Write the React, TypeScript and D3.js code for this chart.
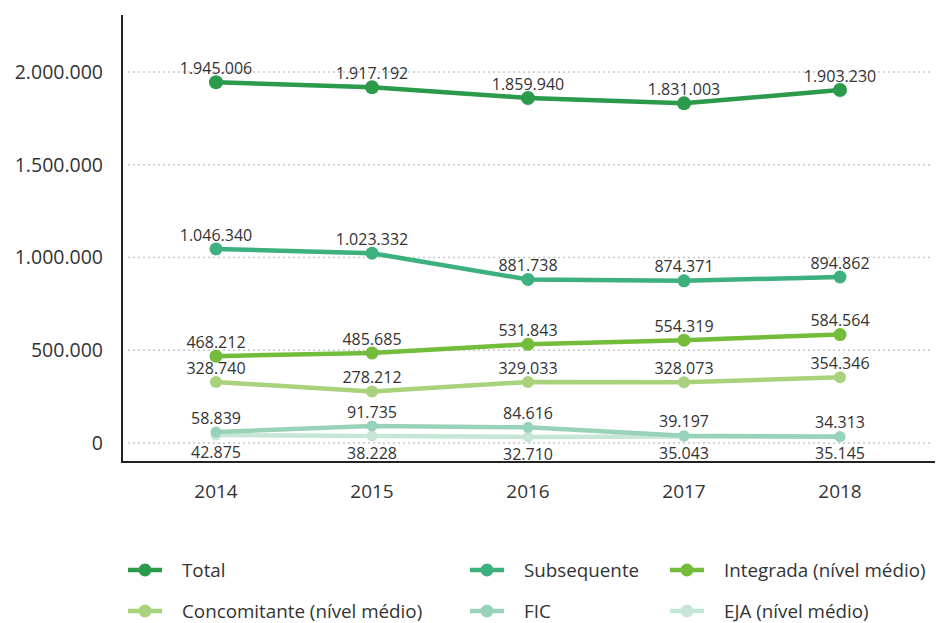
import * as d3 from "d3";
import React, { useEffect } from "react";

const years = [2014, 2015, 2016, 2017, 2018];
const totalValues = [1945006, 1917192, 1859940, 1831003, 1903230];
const subsequenteValues = [1046340, 1023332, 881738, 874371, 894862];
const integradaValues = [468212, 485685, 531843, 554319, 584564];
const concomitanteValues = [328740, 278212, 329033, 328073, 354346];
const ficValues = [58839, 91735, 84616, 39197, 34313];
const ejaValues = [42875, 38228, 32710, 35043, 35145];
const yTicks = [0, 500000, 1000000, 1500000, 2000000];

type Series = { name: string; values: number[]; color: string; r: number; below?: boolean };

const series: Series[] = [
  { name: "EJA (nível médio)", values: ejaValues, color: "#c6e7d6", r: 5.5, below: true },
  { name: "FIC", values: ficValues, color: "#98d3b9", r: 5.5 },
  { name: "Concomitante (nível médio)", values: concomitanteValues, color: "#a8d37c", r: 6 },
  { name: "Integrada (nível médio)", values: integradaValues, color: "#74bc3b", r: 6.5 },
  { name: "Subsequente", values: subsequenteValues, color: "#3cb07e", r: 6.5 },
  { name: "Total", values: totalValues, color: "#2b9a4b", r: 7 },
];

// legend order as in the picture (3 columns, 2 rows)
const legendOrder = ["Total", "Subsequente", "Integrada (nível médio)", "Concomitante (nível médio)", "FIC", "EJA (nível médio)"];

const fmt = (v: number) => d3.format(",")(v).replace(/,/g, ".");

export default function App() {
  useEffect(() => {
    document.body.style.margin = "0";
  }, []);

  const width = 949;
  const height = 623;
  const axisX = 122;
  const axisBottom = 462;

  const y = d3.scaleLinear().domain([0, 2000000]).range([443, 72]);
  const x = d3.scalePoint<number>().domain(years).range([216, 840]);

  const line = d3.line<number>()
    .x((_, i) => x(years[i]) ?? 0)
    .y((d) => y(d));

  const legendCols = [128, 470, 670];
  const legendRows = [570, 611];

  return (
    <svg width={width} height={height} style={{ display: "block", background: "#fff" }}>
      {/* gridlines */}
      {yTicks.map((t) => (
        <line key={t} x1={axisX + 6} x2={932} y1={y(t)} y2={y(t)}
          stroke="#c8c8c8" strokeWidth={1.3} strokeDasharray="2,3" />
      ))}
      {/* y tick labels */}
      {yTicks.map((t) => (
        <text key={"l" + t} x={103} y={y(t)} dy="0.35em" textAnchor="end"
          fontFamily="'Open Sans', sans-serif" fontSize={19.5} fill="#333">{fmt(t)}</text>
      ))}
      {/* axes */}
      <line x1={axisX} x2={axisX} y1={15} y2={axisBottom + 1} stroke="#222" strokeWidth={2} />
      <line x1={axisX} x2={935} y1={axisBottom} y2={axisBottom} stroke="#222" strokeWidth={2} />
      {years.map((yr) => (
        <text key={yr} x={x(yr) ?? 0} y={491} dy="0.35em" textAnchor="middle"
          fontFamily="'Open Sans', sans-serif" fontSize={19} fill="#333">{yr}</text>
      ))}
      {/* series */}
      {series.map((s) => (
        <g key={s.name}>
          <path d={line(s.values) ?? ""} fill="none" stroke={s.color} strokeWidth={4.5} strokeLinejoin="round" />
          {s.values.map((v, i) => (
            <circle key={i} cx={x(years[i]) ?? 0} cy={y(v)} r={s.r} fill={s.color} />
          ))}
        </g>
      ))}
      {/* data labels */}
      {series.map((s) => (
        <g key={"lab" + s.name}>
          {s.values.map((v, i) => (
            <text key={i} x={x(years[i]) ?? 0} y={y(v) + (s.below ? 17 : -14)} dy="0.35em"
              textAnchor="middle" fontFamily="'Open Sans', sans-serif" fontSize={16} fill="#333">
              {fmt(v)}
            </text>
          ))}
        </g>
      ))}
      {/* legend */}
      {legendOrder.map((name, i) => {
        const s = series.find((d) => d.name === name)!;
        const lx = legendCols[i % 3];
        const ly = legendRows[Math.floor(i / 3)];
        return (
          <g key={"lg" + name} transform={`translate(${lx},${ly})`}>
            <line x1={0} x2={34} y1={0} y2={0} stroke={s.color} strokeWidth={4.5} />
            <circle cx={17} cy={0} r={6.5} fill={s.color} />
            <text x={54} y={0} dy="0.35em" fontFamily="'Open Sans', sans-serif" fontSize={18.8} fill="#333">{name}</text>
          </g>
        );
      })}
    </svg>
  );
}
